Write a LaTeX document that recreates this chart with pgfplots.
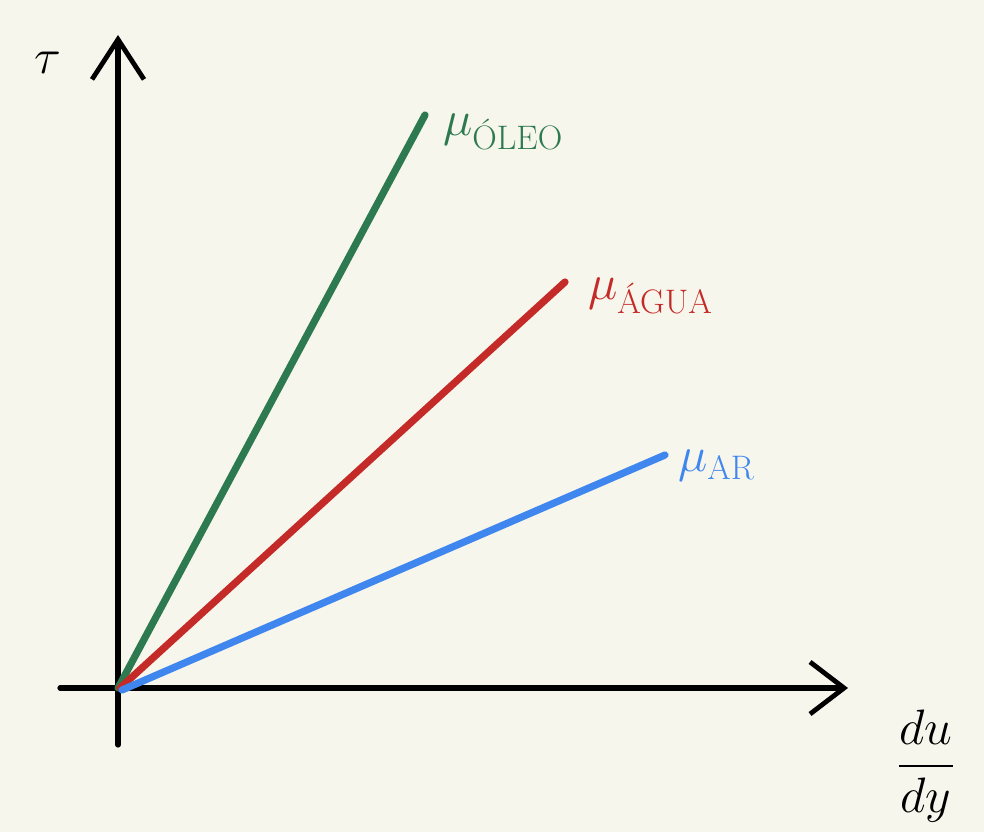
\documentclass[border=0pt]{standalone}
\usepackage{pgfplots}
\pgfplotsset{compat=1.18}
\usepackage{amsmath}
\usetikzlibrary{arrows.meta}
\definecolor{bg}{HTML}{F7F6EC}
\definecolor{oleo}{HTML}{2E7A50}
\definecolor{agua}{HTML}{C42A27}
\definecolor{ar}{HTML}{3F87EE}
\newcommand{\sub}[1]{\text{\fontsize{17}{20}\selectfont #1}}
\begin{document}
\begin{tikzpicture}
\begin{axis}[x=0.5pt, y=0.5pt, xmin=-118, xmax=866, ymin=-144, ymax=688,
  hide axis, clip=false]
\addplot[fill=bg, draw=none] coordinates {(-118,-144) (866,-144) (866,688) (-118,688)} -- cycle;
% axes
\addplot[black, line width=2.6pt, line cap=round, -{Straight Barb[length=17pt, width=26pt, line width=2.4pt]}] coordinates {(-58,0) (730,0)};
\addplot[black, line width=2.6pt, line cap=round, -{Straight Barb[length=20pt, width=26pt, line width=2.4pt]}] coordinates {(0,-57) (0,653)};
% lines
\addplot[oleo, line width=3.6pt, line cap=round] coordinates {(0,0) (307,573)};
\addplot[agua, line width=3.6pt, line cap=round] coordinates {(2,0) (447,406)};
\addplot[ar, line width=3.6pt, line cap=round] coordinates {(4,-2) (547,233)};
% labels
\node[anchor=west, text=oleo, font=\fontsize{40}{44}\selectfont] at (axis cs:318,556) {$\mu_{\sub{ÓLEO}}$};
\node[anchor=west, text=agua, font=\fontsize{40}{44}\selectfont] at (axis cs:463,392) {$\mu_{\sub{ÁGUA}}$};
\node[anchor=west, text=ar, font=\fontsize{40}{44}\selectfont] at (axis cs:553,222) {$\mu_{\sub{AR}}$};
\node[font=\fontsize{40}{44}\selectfont] at (axis cs:-70,625) {$\tau$};
\node[font=\fontsize{28}{34}\selectfont] at (axis cs:808,-78) {$\dfrac{du}{dy}$};
\end{axis}
\end{tikzpicture}
\end{document}
